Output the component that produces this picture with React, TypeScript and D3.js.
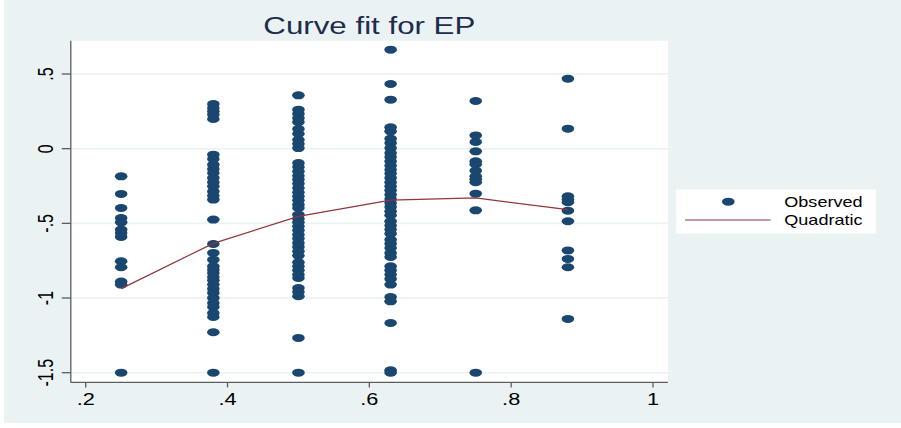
import React from "react";
import * as d3 from "d3";

// fitted-value columns (x) and observed y values at each
const xCats = [0.25, 0.38, 0.5, 0.63, 0.75, 0.88];

const obs25 = [-0.185, -0.303, -0.397, -0.464, -0.493, -0.542, -0.565, -0.591, -0.754, -0.794, -0.89, -0.91, -1.5];
const obs38 = [
  0.299, 0.272, 0.25, 0.228, 0.199, -0.04, -0.069, -0.107, -0.136, -0.163, -0.196, -0.225, -0.252, -0.286,
  -0.315, -0.341, -0.475, -0.638, -0.698, -0.743, -0.788, -0.81, -0.832, -0.859, -0.881, -0.91, -0.939,
  -0.966, -0.999, -1.033, -1.06, -1.1, -1.127, -1.229, -1.5,
];
const obs50 = [
  0.357, 0.261, 0.234, 0.205, 0.178, 0.132, 0.1, 0.06, 0.033, 0.004, -0.096, -0.123, -0.152, -0.181, -0.207,
  -0.234, -0.263, -0.292, -0.319, -0.346, -0.375, -0.397, -0.442, -0.469, -0.493, -0.52, -0.547, -0.576,
  -0.602, -0.631, -0.658, -0.687, -0.716, -0.761, -0.788, -0.814, -0.843, -0.866, -0.933, -0.959, -0.988,
  -1.267, -1.5,
];
const obs63 = [
  0.663, 0.433, 0.328, 0.143, 0.116, 0.067, 0.038, 0.004, -0.029, -0.056, -0.085, -0.114, -0.141, -0.167,
  -0.196, -0.225, -0.252, -0.279, -0.308, -0.337, -0.364, -0.39, -0.419, -0.446, -0.486, -0.515, -0.542,
  -0.569, -0.609, -0.636, -0.665, -0.698, -0.725, -0.788, -0.814, -0.843, -0.872, -0.91, -0.993, -1.022,
  -1.167, -1.484, -1.5,
];
const obs75 = [0.319, 0.089, 0.045, -0.018, -0.085, -0.105, -0.147, -0.185, -0.205, -0.225, -0.301, -0.413, -1.5];
const obs88 = [0.469, 0.134, -0.319, -0.341, -0.359, -0.415, -0.486, -0.681, -0.738, -0.794, -1.14];

const quadFit = [-0.937, -0.634, -0.453, -0.345, -0.33, -0.408];

const yTicks = [-1.5, -1, -0.5, 0, 0.5];
const xTicks = [0.2, 0.4, 0.6, 0.8, 1];

const title = "Curve fit for EP";
const legendLabels = ["Observed", "Quadratic"];

const BG = "#EAF2F3";
const NAVY = "#1A476F";
const MAROON = "#90353B";
const AXIS = "#5c5c5c";
const FONT = "'Liberation Sans', Arial, Helvetica, sans-serif";
const SX = 1.36; // the picture is stretched sideways

const fmt = (v: number) => String(v).replace("0.", ".");

export default function App() {
  const W = 901;
  const H = 428;

  const x = d3.scaleLinear().domain([0.2, 1]).range([85.7, 653]);
  const y = d3.scaleLinear().domain([-1.5, 0.5]).range([372.7, 74]);

  const plotLeft = x(0.179);
  const plotRight = x(1.021);
  const plotTop = y(0.723);
  const plotBottom = y(-1.565);

  const columns = [obs25, obs38, obs50, obs63, obs75, obs88];
  const points = columns.flatMap((vals, i) => vals.map((v) => ({ x: xCats[i], y: v })));

  const fitLine = d3
    .line<number>()
    .x((_, i) => x(xCats[i]))
    .y((d) => y(d));

  const legX = 676;
  const legY = 189.5;

  return (
    <svg
      width={W}
      height={H}
      style={{ position: "absolute", left: 0, top: 0, background: "#fff" }}
      fontFamily={FONT}
    >
      <rect x={4} y={0} width={W - 4} height={423} fill={BG} />

      {/* plot region */}
      <rect x={plotLeft} y={plotTop} width={plotRight - plotLeft} height={plotBottom - plotTop} fill="#fff" />
      {yTicks.map((t) => (
        <line key={"g" + t} x1={plotLeft} x2={plotRight} y1={y(t)} y2={y(t)} stroke={BG} strokeWidth={1.6} />
      ))}

      {/* title */}
      <text
        transform={`translate(${(plotLeft + plotRight) / 2},34.3) scale(${SX},1)`}
        textAnchor="middle"
        fontSize={23}
        fill="#1E2B4D"
      >
        {title}
      </text>

      {/* observed */}
      {points.map((p, i) => (
        <ellipse key={i} cx={x(p.x)} cy={y(p.y)} rx={6.3} ry={4} fill={NAVY} />
      ))}

      {/* quadratic fit */}
      <path d={fitLine(quadFit) ?? ""} fill="none" stroke={MAROON} strokeWidth={1.2} />

      {/* y axis */}
      <line x1={plotLeft} x2={plotLeft} y1={plotTop} y2={plotBottom} stroke={AXIS} strokeWidth={1.3} />
      {yTicks.map((t) => (
        <g key={"y" + t}>
          <line x1={plotLeft - 9} x2={plotLeft} y1={y(t)} y2={y(t)} stroke={AXIS} strokeWidth={1.3} />
          <text
            transform={`translate(52.5,${y(t)}) scale(${SX},1) rotate(-90)`}
            textAnchor="middle"
            fontSize={16}
            fill="#000"
          >
            {fmt(t)}
          </text>
        </g>
      ))}

      {/* x axis */}
      <line x1={plotLeft} x2={plotRight} y1={plotBottom} y2={plotBottom} stroke={AXIS} strokeWidth={1.3} />
      {xTicks.map((t) => (
        <g key={"x" + t}>
          <line x1={x(t)} x2={x(t)} y1={plotBottom} y2={plotBottom + 5} stroke={AXIS} strokeWidth={1.3} />
          <text
            transform={`translate(${x(t)},405) scale(${SX},1)`}
            textAnchor="middle"
            fontSize={16}
            fill="#000"
          >
            {fmt(t)}
          </text>
        </g>
      ))}

      {/* legend */}
      <rect x={legX} y={legY} width={200} height={44} fill="#fff" stroke="#f4f8f8" strokeWidth={1} />
      <ellipse cx={728.3} cy={201.7} rx={6.3} ry={4} fill={NAVY} />
      <line x1={685} x2={770.7} y1={220} y2={220} stroke={MAROON} strokeWidth={1.2} />
      {legendLabels.map((l, i) => (
        <text
          key={l}
          transform={`translate(784.3,${207.3 + i * 17.2}) scale(1.29,1)`}
          fontSize={14}
          fill="#000"
        >
          {l}
        </text>
      ))}
    </svg>
  );
}
